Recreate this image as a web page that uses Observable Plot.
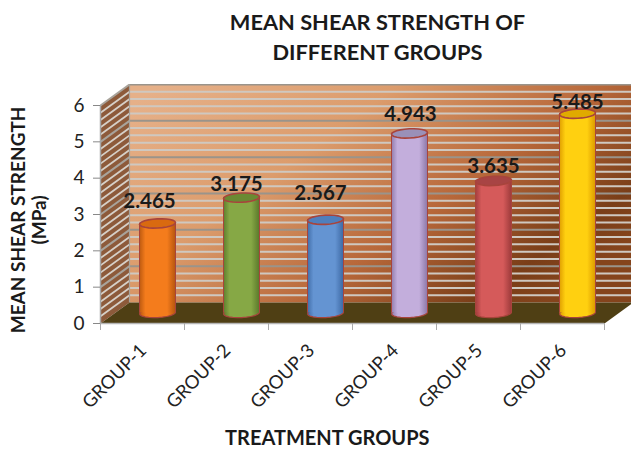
<!DOCTYPE html>
<html>
<head>
<meta charset="utf-8">
<script src="https://cdn.jsdelivr.net/npm/d3@7"></script>
<script src="https://cdn.jsdelivr.net/npm/@observablehq/plot@0.6"></script>
<style>
html,body{margin:0;padding:0;background:#fff;overflow:hidden}
#title{height:84px;box-sizing:border-box;padding-top:7px;width:631px;text-align:center;font:bold 21.8px/30px Lato,sans-serif;color:#1a1a1a;position:relative;left:62px}
</style>
</head>
<body>
<div id="title">MEAN SHEAR STRENGTH OF<br>DIFFERENT GROUPS</div>
<div id="chart"></div>
<script>
const groups = ["GROUP-1","GROUP-2","GROUP-3","GROUP-4","GROUP-5","GROUP-6"];
const values = [2.465,3.175,2.567,4.943,3.635,5.485];
const yTicks = [0,1,2,3,4,5,6];
const xLabel = "TREATMENT GROUPS";
const yLabel = "MEAN SHEAR STRENGTH\n(MPa)";

const palette = [
  {mid:"#f47c1c",edge:"#b9570f",cap:"#d96a10"},
  {mid:"#86a845",edge:"#5d7a2c",cap:"#6a8a32"},
  {mid:"#6494d2",edge:"#3f6ba6",cap:"#4f7fbd"},
  {mid:"#c3aedc",edge:"#8f7aaa",cap:"#9a90b8"},
  {mid:"#d55a5a",edge:"#a03c3c",cap:"#a84444"},
  {mid:"#ffd010",edge:"#dd9c00",cap:"#e0aa00"}
];
const labelNudge = [[-8,-33],[-5,-24],[-5,-37],[1,-29],[0,-25],[0,-22]];

const depthX = 29/84, depthY = 21/36.33;
const barHalf = 18/84, barDx = 15, barDy = -10.5;
const stripes = d3.range(0,6,0.2).filter(v => Math.abs(v-Math.round(v))>1e-6);
const gridLines = [1,2,3,4,5,6];

function capSymbol(rx,ry,tilt){
  return {draw(ctx){
    const n=24,c=Math.cos(tilt),s=Math.sin(tilt);
    for(let i=0;i<=n;i++){
      const t=i/n*2*Math.PI, px=rx*Math.cos(t), py=ry*Math.sin(t);
      const X=px*c-py*s, Y=px*s+py*c;
      i?ctx.lineTo(X,Y):ctx.moveTo(X,Y);
    }
    ctx.closePath();
  }};
}
const cap = capSymbol(18,4.6,-0.05);

const poly = (pts,o) => Plot.line(pts,{x:"0",y:"1",curve:"linear-closed",...o});

const barMarks = groups.flatMap((g,i)=>{
  const d=[{c:i+.5,v:values[i]}];
  const [nx,ny]=labelNudge[i];
  return [
    Plot.dot([{c:i+.5}],{x:"c",y:()=>0,symbol:cap,dx:barDx,dy:barDy,fill:`url(#bar${i})`,stroke:"#a8443c",strokeWidth:1.2}),
    Plot.rectY(d,{x1:e=>e.c-barHalf,x2:e=>e.c+barHalf,y1:()=>0,y2:"v",dx:barDx,dy:barDy,fill:`url(#bar${i})`}),
    Plot.ruleX(d,{x:e=>e.c-barHalf,y1:()=>0,y2:"v",dx:barDx,dy:barDy,stroke:"#a8443c",strokeWidth:1}),
    Plot.ruleX(d,{x:e=>e.c+barHalf,y1:()=>0,y2:"v",dx:barDx,dy:barDy,stroke:"#a8443c",strokeWidth:1}),
    Plot.dot(d,{x:"c",y:"v",symbol:cap,dx:barDx,dy:barDy,fill:palette[i].cap,stroke:"#a8443c",strokeWidth:1.6}),
    Plot.text(d,{x:"c",y:"v",text:e=>e.v.toFixed(3),dx:barDx+nx,dy:barDy+ny+10.5,fontSize:20.5,fontWeight:700,fill:"#1a1a1a"})
  ];
});

const chart = Plot.plot({
  width:631,height:366,
  marginTop:21,marginBottom:127,marginLeft:100,marginRight:27,
  style:{fontFamily:"Lato, sans-serif",background:"transparent"},
  x:{domain:[0,6],axis:null},
  y:{domain:[0,6],axis:null},
  marks:[
    // back wall
    poly([[depthX,depthY],[6+depthX,depthY],[6+depthX,6+depthY],[depthX,6+depthY]],{fill:"url(#wall)",stroke:"none"}),
    Plot.ruleY(stripes,{y:d=>d+depthY,x1:()=>depthX,x2:()=>6+depthX,stroke:"#cfc8c0",strokeWidth:2}),
    Plot.ruleY(gridLines,{y:d=>d+depthY,x1:()=>depthX,x2:()=>6+depthX,stroke:"#9a948b",strokeWidth:2}),
    // side wall
    poly([[0,0],[depthX,depthY],[depthX,6+depthY],[0,6]],{fill:"#8d5a3a",stroke:"none"}),
    Plot.link(stripes,{x1:()=>0,y1:d=>d,x2:()=>depthX,y2:d=>d+depthY,stroke:"#d6d0c8",strokeWidth:1.8}),
    Plot.link(gridLines,{x1:()=>0,y1:d=>d,x2:()=>depthX,y2:d=>d+depthY,stroke:"#a8a39b",strokeWidth:2}),
    Plot.link([0],{x1:()=>depthX,y1:()=>depthY,x2:()=>depthX,y2:()=>6+depthY,stroke:"#a8a39b",strokeWidth:1.2}),
    // floor
    poly([[0,0],[6,0],[6+depthX,depthY],[depthX,depthY]],{fill:"#4f3f14",stroke:"none"}),
    ...barMarks,
    // axes
    Plot.ruleX([0],{stroke:"#a6a6a6",strokeWidth:1.5}),
    Plot.ruleY([0],{stroke:"#b5b5b5",strokeWidth:1.5}),
    Plot.axisY({ticks:yTicks,tickSize:7,tickPadding:9,fontSize:19,tickFormat:d=>String(d),color:"#222",stroke:"#888",label:null}),
    Plot.axisX({ticks:yTicks,tickSize:7,tickFormat:()=>"",label:null,stroke:"#aaa"}),
    Plot.text(groups,{x:(d,i)=>i+.5,y:()=>0,text:d=>d,rotate:-45,textAnchor:"end",dx:1,dy:24,fontSize:18.5,fill:"#222"}),
    Plot.text([xLabel],{x:()=>2.7,y:()=>0,text:d=>d,dy:115,fontSize:20,fontWeight:700,fill:"#1a1a1a"}),
    Plot.text([yLabel],{x:()=>0,y:()=>2.85,text:d=>d,rotate:-90,dx:-72,fontSize:19,fontWeight:700,lineHeight:1.1,fill:"#1a1a1a"})
  ]
});

const ns="http://www.w3.org/2000/svg";
const defs=document.createElementNS(ns,"defs");
function grad(id,stops,attrs){
  const g=document.createElementNS(ns,"linearGradient");
  g.setAttribute("id",id);
  for(const k in attrs) g.setAttribute(k,attrs[k]);
  for(const [o,c] of stops){
    const s=document.createElementNS(ns,"stop");
    s.setAttribute("offset",o);s.setAttribute("stop-color",c);g.appendChild(s);
  }
  defs.appendChild(g);
}
palette.forEach((p,i)=>grad(`bar${i}`,[[0,p.edge],[.18,p.mid],[.78,p.mid],[1,p.edge]],{x1:"0",x2:"1",y1:"0",y2:"0"}));
grad("wall",[[0,"#e6b088"],[.35,"#dc9c6c"],[.65,"#b8683a"],[.9,"#7a3e18"],[1,"#85441c"]],{x1:"0",y1:"0.1",x2:"1",y2:"0.7"});
chart.insertBefore(defs,chart.firstChild);
document.getElementById("chart").appendChild(chart);
</script>
</body>
</html>
